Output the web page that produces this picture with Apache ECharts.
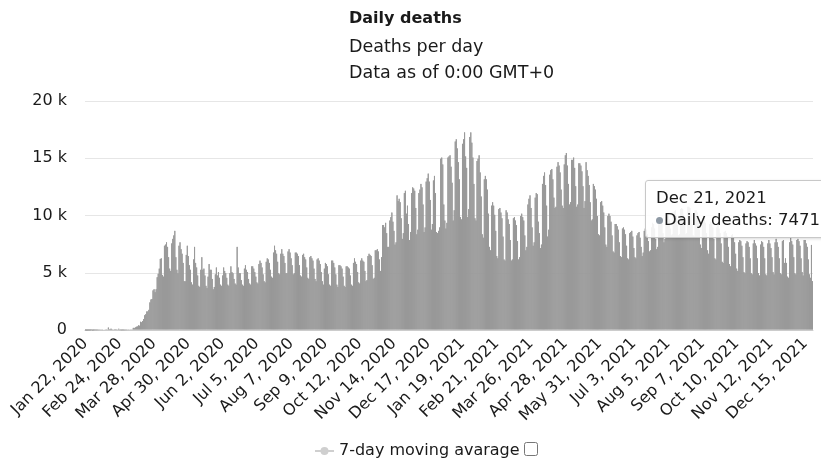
<!DOCTYPE html>
<html>
<head>
<meta charset="utf-8">
<script src="https://cdn.jsdelivr.net/npm/echarts@6/dist/echarts.min.js"></script>
<style>
html,body{margin:0;padding:0;overflow:hidden;background:#fff;}
#chart{width:821px;height:466px;overflow:hidden;}
</style>
</head>
<body>
<div id="chart"></div>
<script>
// Daily deaths, Jan 22 2020 - Jan 5 2021 (weeks start on Wednesday)
const dailyDeathsPart1 = [
  17,1,8,16,14,26,49,
  2,38,42,46,45,57,64,
  66,73,73,86,89,97,108,
  97,254,121,143,142,106,98,
  115,118,109,97,150,71,52,
  29,44,37,68,45,73,66,
  84,100,101,103,228,204,273,
  326,352,445,414,759,715,830,
  1000,1330,1420,1660,1660,1800,2450,
  2700,2750,3500,3600,3350,3600,4650,
  4950,5400,6250,6300,4850,4700,7400,
  7500,7700,7300,6400,5400,5200,7600,
  8000,8300,8700,6400,5300,5000,7400,
  7700,7100,6700,5900,4300,4300,6600,
  7400,6500,5700,5300,4200,4000,6200,
  7300,5900,5500,4800,3900,3800,5300,
  6400,5300,5400,4800,3900,3700,4700,
  5800,5300,5300,4500,3600,3800,4900,
  5500,4800,5100,4600,4000,3900,4800,
  5500,5200,5000,4600,4000,3900,5000,
  5600,5100,5000,4500,4100,4000,7300,
  5500,5000,5000,4400,4000,3900,5400,
  5700,5300,5100,4500,4100,4000,5600,
  5600,5400,5100,4700,4200,4100,5800,
  6100,5900,5500,4900,4300,4200,6000,
  6300,6200,5900,5300,4700,4600,6800,
  7400,7000,6700,6000,5000,4900,6700,
  7100,6700,6500,5900,5000,5000,6900,
  7100,6800,6300,5700,4900,5000,6800,
  6800,6700,6500,5700,4800,4700,6600,
  6700,6400,6200,5500,4600,4500,6400,
  6500,6300,6100,5400,4500,4300,6200,
  6300,6100,5800,5100,4300,4000,5400,
  5900,5800,5600,4900,4000,3900,6100,
  6100,5900,5500,4900,4000,3800,5700,
  5700,5600,5400,4700,3900,3800,5600,
  5600,5500,5400,4800,4000,3900,5900,
  6300,6000,5800,5100,4200,4100,6100,
  6300,6100,6000,5200,4300,4400,6500,
  6700,6600,6500,5700,4500,4600,7000,
  7000,7100,6900,6200,5200,6400,9200,
  9200,9000,9400,8500,7300,7300,9600,
  9900,10300,9500,8700,7500,7700,11800,
  11300,11500,11200,9800,8000,8500,12000,
  12200,10200,10900,9300,7900,8600,12000,
  12500,12400,12200,10700,8400,8800,12000,
  12300,12800,12500,11000,8600,9000,13000,
  13300,13700,13000,11400,8800,9300,13100,
  13500,12000,8600,8500,8700,9000,15000,
  15100,14500,11000,9600,8900,9400,15100
];
// Daily deaths, Jan 6 2021 - Dec 22 2021
const dailyDeathsPart2 = [
  15200,15300,14300,12900,9600,10500,16500,
  16700,15900,14700,13200,9900,9700,16300,
  16700,17300,15200,14200,9900,10600,16900,
  17300,16400,15100,12800,9800,9600,14800,
  15000,15300,13800,11700,8400,8100,13200,
  13500,13200,12300,10200,7300,7000,10900,
  11200,10900,10100,8700,6500,6300,10600,
  10700,10300,9800,8200,6200,6100,10500,
  10300,9700,9300,7900,6100,6200,9800,
  9900,9600,9200,7800,6200,6400,10000,
  10200,9900,9600,8300,7000,7300,11000,
  11500,11800,10700,9000,7400,7700,11600,
  12000,11900,9500,8500,7200,7500,12800,
  13500,13800,12700,10900,8200,8800,13600,
  14000,14100,13200,11600,10700,10800,14300,
  14700,14400,13800,12300,10900,10700,14500,
  15300,15500,14400,12800,11000,11200,14900,
  14900,15100,14200,12600,10800,11000,14600,
  14600,14400,13900,12600,10700,11300,14700,
  14000,13500,12700,11200,9600,9700,12800,
  12600,12300,11500,10000,8400,8300,11200,
  11300,10900,10300,9000,7500,7300,10000,
  10200,10000,9500,8300,6900,6800,9300,
  9300,9100,8800,7700,6500,6400,8900,
  9000,8800,8400,7400,6300,6200,8500,
  8600,8700,8200,7200,6400,6300,8300,
  8500,8600,8100,7300,6500,6800,8700,
  8900,8800,8400,7800,6900,7000,9000,
  9400,9300,8900,8000,7100,7300,9500,
  9600,9700,9300,8500,7700,8000,9900,
  10000,10100,9700,8900,8300,8400,10300,
  10400,10500,10000,9200,8300,8400,10600,
  10700,10600,10100,9400,8400,8500,10800,
  10800,10700,10200,9300,8300,8200,10500,
  10500,10300,9800,8800,7500,7200,9600,
  10000,9800,9400,8500,7000,6700,9300,
  9500,9300,9000,8000,6300,6200,9000,
  9200,8900,8500,7600,6000,5900,8600,
  8700,8500,8200,7300,5800,5600,8300,
  8400,8100,7700,6700,5400,5200,7700,
  7900,7800,7400,6400,5100,5000,7600,
  7800,7700,7300,6300,5000,4900,7600,
  7900,7600,7400,6300,5000,4800,7500,
  7800,7700,7300,6300,4900,4800,7600,
  7900,7600,7200,6400,5100,4900,7700,
  8000,7700,7300,6300,5000,4900,7800,
  7900,5900,6300,5900,4700,4600,7700,
  8100,7800,7500,6400,5000,4900,7900,
  8000,7800,7400,6300,5100,4800,7900,
  7900,7600,7300,6200,4900,4600,7471,
  4300
];
const movingAverage = []; // series hidden in the reference (legend only)
const yTicks = [0, 5000, 10000, 15000, 20000];
const monthNames = ['Jan','Feb','Mar','Apr','May','Jun','Jul','Aug','Sep','Oct','Nov','Dec'];
const startDate = [2020, 0, 22];

const dailyDeaths = dailyDeathsPart1.concat(dailyDeathsPart2);
const categories = dailyDeaths.map(function (_, i) {
  const d = new Date(Date.UTC(startDate[0], startDate[1], startDate[2] + i));
  return monthNames[d.getUTCMonth()] + ' ' + d.getUTCDate() + ', ' + d.getUTCFullYear();
});

const FONT = 'DejaVu Sans';
const chart = echarts.init(document.getElementById('chart'), null, {renderer: 'canvas'});
const option = {
  animation: false,
  backgroundColor: '#fff',
  textStyle: {fontFamily: FONT},
  title: {
    text: 'Daily deaths',
    subtext: 'Deaths per day\nData as of 0:00 GMT+0',
    left: 344,
    top: 3,
    itemGap: 4,
    textStyle: {fontFamily: FONT, fontSize: 16, fontWeight: 'bold', color: '#1a1a1a', lineHeight: 22},
    subtextStyle: {fontFamily: FONT, fontSize: 17.5, color: '#1a1a1a', lineHeight: 26}
  },
  grid: {left: 85, right: 8, top: 101, bottom: 136},
  legend: {
    data: ['7-day moving avarage'],
    left: 309,
    top: 438,
    itemWidth: 19,
    itemHeight: 10,
    itemGap: 5,
    textStyle: {fontFamily: FONT, fontSize: 16, color: '#1a1a1a'}
  },
  tooltip: {
    trigger: 'item',
    triggerOn: 'none',
    alwaysShowContent: true,
    position: [645, 180],
    transitionDuration: 0,
    backgroundColor: 'rgba(255,255,255,0.88)',
    borderColor: '#c8c8c8',
    borderWidth: 1,
    padding: [6, 10],
    extraCssText: 'box-shadow:1px 1px 3px rgba(0,0,0,0.15);border-radius:3px;white-space:nowrap;',
    textStyle: {fontFamily: FONT, fontSize: 16.5, color: '#1a1a1a', lineHeight: 22},
    formatter: function (p) {
      return p.name + '<br/><span style="display:inline-block;width:7px;height:7px;border-radius:50%;background:#8e99a4;vertical-align:middle;margin-right:1px;"></span>' +
        p.seriesName + ': ' + p.value;
    }
  },
  xAxis: {
    type: 'category',
    data: categories,
    boundaryGap: true,
    axisLine: {lineStyle: {color: '#cccccc'}},
    axisTick: {show: false},
    axisLabel: {interval: 32, rotate: 45, fontSize: 16, color: '#1a1a1a', margin: 11, fontFamily: FONT}
  },
  yAxis: {
    type: 'value',
    min: yTicks[0],
    max: yTicks[yTicks.length - 1],
    interval: 5000,
    axisLine: {show: false},
    axisTick: {show: false},
    axisLabel: {
      fontSize: 16, color: '#1a1a1a', margin: 18, fontFamily: FONT,
      formatter: function (v) { return v === 0 ? '0' : (v / 1000) + ' k'; }
    },
    splitLine: {lineStyle: {color: '#e6e6e6'}}
  },
  series: [
    {
      name: 'Daily deaths',
      type: 'bar',
      data: dailyDeaths,
      barCategoryGap: '0%',
      itemStyle: {color: '#999999', borderColor: '#999999', borderWidth: 1},
      emphasis: {disabled: true}
    },
    {
      name: '7-day moving avarage',
      type: 'line',
      data: movingAverage,
      symbol: 'circle',
      symbolSize: 8,
      itemStyle: {color: '#cfcfcf'},
      lineStyle: {color: '#cfcfcf', width: 2}
    }
  ],
  graphic: [
    {
      type: 'rect',
      left: 524,
      top: 442,
      shape: {width: 13, height: 13, r: 2},
      style: {fill: '#fff', stroke: '#777', lineWidth: 1}
    }
  ]
};
chart.setOption(option);
chart.dispatchAction({type: 'showTip', seriesIndex: 0, dataIndex: 699});
</script>
</body>
</html>
